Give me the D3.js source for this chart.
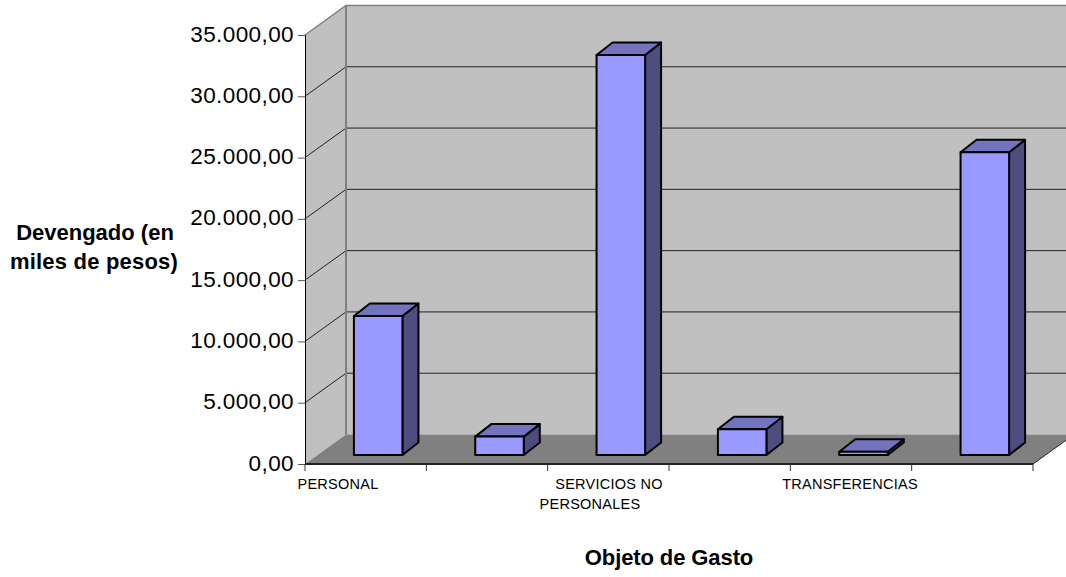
<!DOCTYPE html>
<html>
<head>
<meta charset="utf-8">
<script src="https://d3js.org/d3.v7.min.js"></script>
<style>
  html, body { margin: 0; padding: 0; background: #fff; overflow: hidden; }
  text { font-family: "Liberation Sans", Arial, sans-serif; fill: #000; }
</style>
</head>
<body>
<div id="chart"></div>
<script>
const categories = ['PERSONAL', 'B', 'SERVICIOS NO PERSONALES', 'D', 'TRANSFERENCIAS', 'F'];
const categoryLabels = [['PERSONAL'], [], ['SERVICIOS NO', 'PERSONALES'], [], ['TRANSFERENCIAS'], []];
const values = [11340, 1500, 32630, 2100, 270, 24700];
const yTicks = [0, 5000, 10000, 15000, 20000, 25000, 30000, 35000];

const width = 1066;
const height = 577;

const svg = d3.select('#chart')
  .append('svg')
  .attr('width', width)
  .attr('height', height)
  .style('display', 'block');

const x = d3.scaleBand()
  .domain(categories)
  .range([305, 1033])
  .paddingInner(0.6)
  .paddingOuter(0.3);

const y = d3.scaleLinear()
  .domain([0, 35000])
  .range([464, 35]);

const step = x.step();
const tickX = i => 305 + i * step;

// depth of the 3d box, and of one bar inside it
const depth = { dx: 41, dy: -29.5 };
const barBase = { dx: 12.5, dy: -9 };
const barDepth = { dx: 16, dy: -12.5 };

const x0 = x.range()[0], x1 = x.range()[1];
const yB = y(0), yT = y(35000);
const poly = pts => pts.map(p => p.join(',')).join(' ');

// walls
svg.append('polygon')
  .attr('points', poly([[x0 + depth.dx, yT + depth.dy], [x1 + depth.dx, yT + depth.dy], [x1 + depth.dx, yB + depth.dy], [x0 + depth.dx, yB + depth.dy]]))
  .attr('fill', '#c0c0c0');
svg.append('polygon')
  .attr('points', poly([[x0, yT], [x0 + depth.dx, yT + depth.dy], [x0 + depth.dx, yB + depth.dy], [x0, yB]]))
  .attr('fill', '#c0c0c0');
svg.append('polygon')
  .attr('points', poly([[x0, yB], [x0 + depth.dx, yB + depth.dy], [x1 + depth.dx, yB + depth.dy], [x1, yB]]))
  .attr('fill', '#808080');

// gridlines, on side wall and back wall
yTicks.slice(1, -1).forEach(t => {
  svg.append('polyline')
    .attr('points', poly([[x0, y(t)], [x0 + depth.dx, y(t) + depth.dy], [x1 + depth.dx, y(t) + depth.dy]]))
    .attr('fill', 'none')
    .attr('stroke', '#222')
    .attr('stroke-width', 1);
});

// wall outlines
svg.append('polyline')
  .attr('points', poly([[x0, yT], [x0 + depth.dx, yT + depth.dy], [x1 + depth.dx, yT + depth.dy]]))
  .attr('fill', 'none')
  .attr('stroke', '#808080')
  .attr('stroke-width', 1.5);
svg.append('line')
  .attr('x1', x0 + depth.dx).attr('x2', x0 + depth.dx)
  .attr('y1', yT + depth.dy).attr('y2', yB + depth.dy)
  .attr('stroke', '#808080')
  .attr('stroke-width', 2);
svg.append('line')
  .attr('x1', x1).attr('x2', x1 + depth.dx)
  .attr('y1', yB).attr('y2', yB + depth.dy)
  .attr('stroke', '#222')
  .attr('stroke-width', 1);

// bars
const bars = svg.selectAll('.bar')
  .data(categories.map((c, i) => ({ c, v: values[i] })))
  .enter()
  .append('g')
  .attr('class', 'bar')
  .attr('stroke', '#000')
  .attr('stroke-width', 2)
  .attr('stroke-linejoin', 'round');

bars.each(function (d) {
  const g = d3.select(this);
  const l = x(d.c) + barBase.dx;
  const r = l + x.bandwidth();
  const b = yB + barBase.dy;
  const t = y(d.v) + barBase.dy;
  g.append('polygon')
    .attr('points', poly([[r, b], [r + barDepth.dx, b + barDepth.dy], [r + barDepth.dx, t + barDepth.dy], [r, t]]))
    .attr('fill', '#4d4d80');
  g.append('polygon')
    .attr('points', poly([[l, t], [l + barDepth.dx, t + barDepth.dy], [r + barDepth.dx, t + barDepth.dy], [r, t]]))
    .attr('fill', '#7373bf');
  g.append('rect')
    .attr('x', l)
    .attr('y', t)
    .attr('width', r - l)
    .attr('height', b - t)
    .attr('fill', '#9999ff');
});

// y axis
const locale = d3.formatLocale({ decimal: ',', thousands: '.', grouping: [3], currency: ['$', ''] });
const yAxis = d3.axisLeft(y)
  .tickValues(yTicks)
  .tickFormat(locale.format(',.2f'))
  .tickSize(7)
  .tickPadding(4);

const yG = svg.append('g')
  .attr('transform', `translate(${x0},0)`)
  .call(yAxis);
yG.select('.domain').attr('stroke', '#000').attr('stroke-width', 1);
yG.selectAll('.tick line').attr('stroke', '#555');
yG.selectAll('text')
  .attr('dy', '0.27em')
  .style('font-size', '22.5px')
  .style('letter-spacing', '0.4px')
  .style('font-family', '"Liberation Sans", Arial, sans-serif')
  .attr('fill', '#000');

// x axis line and ticks
svg.append('line')
  .attr('x1', x0).attr('x2', x1)
  .attr('y1', yB).attr('y2', yB)
  .attr('stroke', '#222')
  .attr('stroke-width', 2);
d3.range(categories.length + 1).forEach(i => {
  svg.append('line')
    .attr('x1', tickX(i)).attr('x2', tickX(i))
    .attr('y1', yB).attr('y2', yB + 7)
    .attr('stroke', '#333');
});

// category labels
const labelAnchor = [338, 0, 609, 0, 850, 0];
const labelSecond = [0, 0, 590, 0, 0, 0];
categoryLabels.forEach((lines, i) => {
  lines.forEach((line, j) => {
    svg.append('text')
      .attr('x', j === 0 ? labelAnchor[i] : labelSecond[i])
      .attr('y', 489 + j * 20)
      .attr('text-anchor', 'middle')
      .style('font-size', '14.5px')
      .style('letter-spacing', '0.25px')
      .text(line);
  });
});

// axis titles
svg.append('text')
  .attr('x', 95).attr('y', 240)
  .attr('text-anchor', 'middle')
  .style('font-size', '22px').style('font-weight', 'bold')
  .text('Devengado (en');
svg.append('text')
  .attr('x', 94).attr('y', 269)
  .attr('text-anchor', 'middle')
  .style('font-size', '22px').style('font-weight', 'bold').style('letter-spacing', '0.2px')
  .text('miles de pesos)');
svg.append('text')
  .attr('x', 669).attr('y', 565)
  .attr('text-anchor', 'middle')
  .style('font-size', '22px').style('font-weight', 'bold').style('letter-spacing', '-0.1px')
  .text('Objeto de Gasto');
</script>
</body>
</html>
